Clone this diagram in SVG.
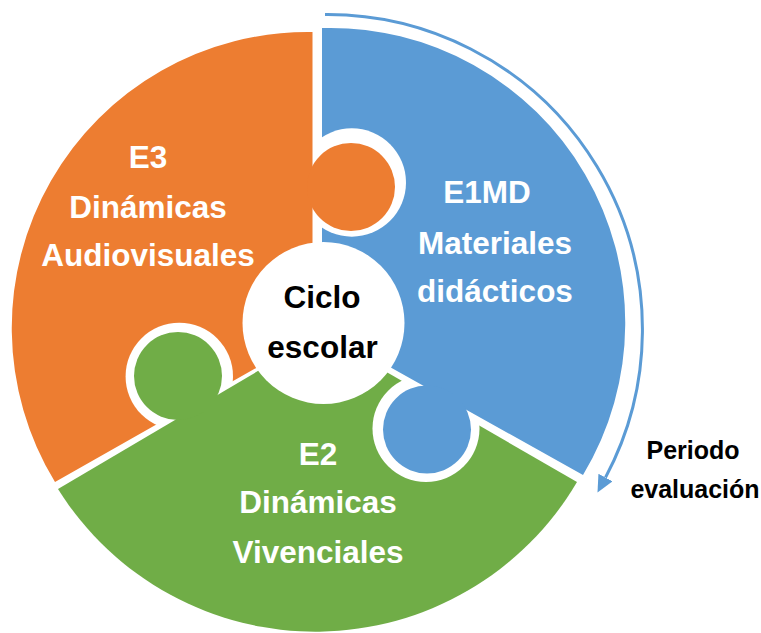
<svg xmlns="http://www.w3.org/2000/svg" width="761" height="633" viewBox="0 0 761 633">
  <style>
    .lbl { font-family: "Liberation Sans", Arial, sans-serif; font-weight: bold; font-size: 31.5px; text-anchor: middle; fill: #ffffff; }
    .ctr { fill: #000000; }
    .side { font-family: "Liberation Sans", Arial, sans-serif; font-weight: bold; font-size: 25px; text-anchor: middle; fill: #000000; }
    .orange { fill: #ED7D31; }
    .blue { fill: #5B9BD5; }
    .green { fill: #70AD47; }
    .conn { fill: none; stroke: #5B9BD5; stroke-width: 3; }
  </style>
  <defs>
    <mask id="mBlue" maskUnits="userSpaceOnUse" x="0" y="0" width="761" height="633">
      <rect x="0" y="0" width="761" height="633" fill="#fff"/>
      <circle cx="351.8" cy="182.5" r="54.2" fill="#000"/>
    </mask>
    <mask id="mOrange" maskUnits="userSpaceOnUse" x="0" y="0" width="761" height="633">
      <rect x="0" y="0" width="761" height="633" fill="#fff"/>
      <circle cx="179.3" cy="376.4" r="53.7" fill="#000"/>
    </mask>
    <mask id="mGreen" maskUnits="userSpaceOnUse" x="0" y="0" width="761" height="633">
      <rect x="0" y="0" width="761" height="633" fill="#fff"/>
      <circle cx="426" cy="428.5" r="53.5" fill="#000"/>
    </mask>
    <marker id="ah" markerUnits="userSpaceOnUse" markerWidth="20" markerHeight="18" refX="0" refY="8" orient="auto">
      <path d="M0,0 L17,8 L0,16 Z" fill="#5B9BD5"/>
    </marker>
  </defs>

  <g id="piece-e3">
    <path class="orange" mask="url(#mOrange)" d="M312.5,32 L312.5,336 L55,482 A296,296 0 0 1 312.5,32 Z"/>
    <circle class="orange" cx="351" cy="187" r="44"/>
    <text class="lbl" x="148" y="168">E3</text>
    <text class="lbl" x="148" y="218">Dinámicas</text>
    <text class="lbl" x="148" y="266">Audiovisuales</text>
  </g>

  <g id="piece-e1md">
    <path class="blue" mask="url(#mBlue)" d="M322,28 A295,295 0 0 1 583,475 L322,329 Z"/>
    <circle class="blue" cx="427" cy="429.5" r="44"/>
    <text class="lbl" x="487" y="203">E1MD</text>
    <text class="lbl" x="495" y="254">Materiales</text>
    <text class="lbl" x="495" y="302">didácticos</text>
  </g>

  <g id="piece-e2">
    <path class="green" mask="url(#mGreen)" d="M58,489 L320.6,334 L577,482 A303.5,303.5 0 0 1 58,489 Z"/>
    <circle class="green" cx="178" cy="376" r="44"/>
    <text class="lbl" x="318" y="465">E2</text>
    <text class="lbl" x="318" y="513">Dinámicas</text>
    <text class="lbl" x="318" y="563">Vivenciales</text>
  </g>

  <g id="center">
    <circle cx="323.5" cy="323" r="81" fill="#ffffff"/>
    <text class="lbl ctr" x="322" y="308">Ciclo</text>
    <text class="lbl ctr" x="322.5" y="358">escolar</text>
  </g>

  <g id="connectors">
    <path class="conn" d="M325,14.5 A315,315 0 0 1 605.5,477.5" marker-end="url(#ah)"/>
  </g>

  <g id="periodo">
    <text class="side" x="693" y="459">Periodo</text>
    <text class="side" x="695" y="498">evaluación</text>
  </g>
</svg>
